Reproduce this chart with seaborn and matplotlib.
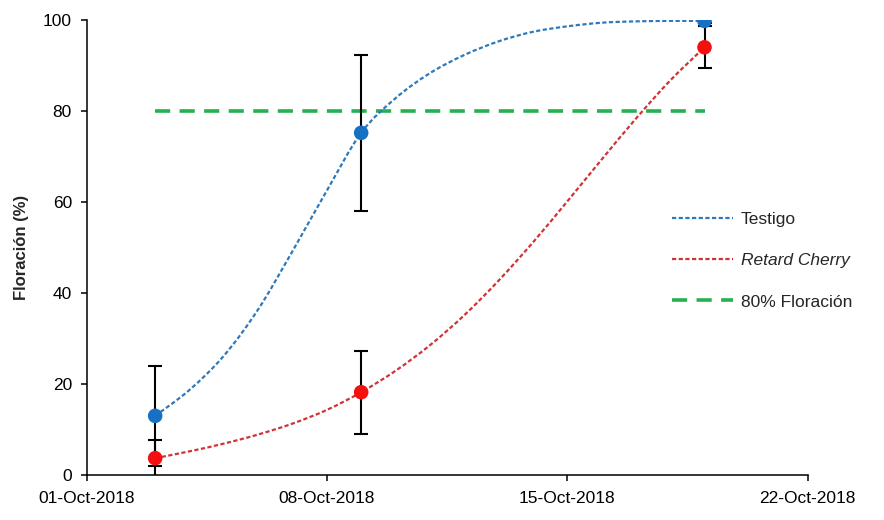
import numpy as np
import pandas as pd
import matplotlib
matplotlib.use('Agg')
import matplotlib.pyplot as plt
import matplotlib.dates as mdates
from matplotlib.lines import Line2D
from matplotlib.path import Path
from matplotlib.patches import PathPatch
import seaborn as sns

# ---- observed points (mean ± error) ----
obs_dates = ['2018-10-03', '2018-10-09', '2018-10-19']
testigo_mean = [13.0, 75.2, 99.8]
testigo_err = [11.0, 17.2, 0.4]
retard_mean = [3.7, 18.2, 94.0]
retard_err = [4.1, 9.1, 4.6]

# ---- smoothed curves (one value per day, 03-Oct .. 19-Oct) ----
curve_dates = pd.date_range('2018-10-03', '2018-10-19', freq='D')
testigo_curve = [13.0, 18.7, 26.2, 36.4, 49.2, 62.5, 75.2, 82.8, 88.3, 92.3, 95.3,
                 97.4, 98.6, 99.4, 99.7, 99.8, 99.8]
retard_curve = [3.7, 5.2, 6.9, 8.9, 11.3, 14.3, 18.2, 22.9, 28.5, 35.1, 42.7, 51.1,
                60.1, 69.3, 78.3, 86.7, 94.0]

# ---- 80 % threshold ----
threshold_dates = ['2018-10-03', '2018-10-19']
threshold_vals = [80, 80]

x_tick_dates = ['2018-10-01', '2018-10-08', '2018-10-15', '2018-10-22']
y_ticks = [0, 20, 40, 60, 80, 100]
legend_labels = ['Testigo', 'Retard Cherry', '80% Floración']
y_label = 'Floración (%)'

# ---- style ----
sns.set_style('ticks')
plt.rcParams['font.family'] = ['Liberation Sans', 'DejaVu Sans']

blue_line = '#2F78BA'
blue_mark = '#1670C4'
red_line = '#CF3434'
red_mark = '#F51010'
green = '#25B150'
fine_dash = (0, (1.9, 1.1))
long_dash = (0, (4.2, 2.6))
FS = 12.5

fig = plt.figure(figsize=(8.84, 5.2), dpi=100)
ax = fig.add_axes([86.5 / 884, 45 / 520, 721 / 884, 455 / 520])

obs_dt = pd.to_datetime(obs_dates)
thr_dt = pd.to_datetime(threshold_dates)

# threshold line (seaborn sets up the date axis)
sns.lineplot(x=thr_dt, y=threshold_vals, ax=ax, color=green, linewidth=2.6,
             linestyle=long_dash, estimator=None, errorbar=None, zorder=2)


def smooth_path(dates, values):
    """Smoothed line through the points (Catmull-Rom as cubic Bezier segments)."""
    x = mdates.date2num(pd.DatetimeIndex(dates).to_pydatetime())
    pts = np.column_stack([x, np.asarray(values, float)])
    ext = np.vstack([pts[0], pts, pts[-1]])
    verts = [pts[0]]
    codes = [Path.MOVETO]
    for i in range(len(pts) - 1):
        p0, p1, p2, p3 = ext[i], ext[i + 1], ext[i + 2], ext[i + 3]
        verts += [p1 + (p2 - p0) / 6.0, p2 - (p3 - p1) / 6.0, p2]
        codes += [Path.CURVE4] * 3
    return Path(np.array(verts), codes)


for vals, col in [(testigo_curve, blue_line), (retard_curve, red_line)]:
    ax.add_patch(PathPatch(smooth_path(curve_dates, vals), facecolor='none',
                           edgecolor=col, linewidth=1.6, linestyle=fine_dash,
                           zorder=3))

# error bars
for mean, err in [(testigo_mean, testigo_err), (retard_mean, retard_err)]:
    ax.errorbar(obs_dt, mean, yerr=err, fmt='none', ecolor='black',
                elinewidth=1.5, capsize=5.3, capthick=1.5, zorder=4)

# markers
sns.scatterplot(x=obs_dt, y=retard_mean, ax=ax, color=red_mark, s=110,
                edgecolor='none', zorder=5, legend=False)
sns.scatterplot(x=obs_dt, y=testigo_mean, ax=ax, color=blue_mark, s=110,
                edgecolor='none', zorder=6, legend=False)

# axes
ax.set_xlim(pd.Timestamp(x_tick_dates[0]), pd.Timestamp(x_tick_dates[-1]))
ax.set_ylim(0, 100)
ax.set_xticks(pd.to_datetime(x_tick_dates))
ax.xaxis.set_major_formatter(mdates.DateFormatter('%d-%b-%Y'))
ax.set_yticks(y_ticks)
ax.tick_params(axis='both', direction='out', length=4.5, width=1.1, labelsize=FS,
               colors='black')
ax.tick_params(axis='x', pad=7)
ax.tick_params(axis='y', pad=6)
ax.set_xlabel('')
ax.set_ylabel(y_label, fontsize=12, fontweight='bold', labelpad=10)
for side in ['top', 'right']:
    ax.spines[side].set_visible(False)
for side in ['left', 'bottom']:
    ax.spines[side].set_linewidth(1.1)
    ax.spines[side].set_color('black')

# legend
handles = [
    Line2D([], [], color=blue_line, lw=1.6, linestyle=fine_dash),
    Line2D([], [], color=red_line, lw=1.6, linestyle=fine_dash),
    Line2D([], [], color=green, lw=2.6, linestyle=long_dash),
]
leg = ax.legend(handles, legend_labels, loc='upper left',
                bbox_to_anchor=(672 / 884, 1 - 212 / 520),
                bbox_transform=fig.transFigure, frameon=False, fontsize=FS,
                handlelength=3.5, handletextpad=0.45, labelspacing=1.5,
                borderpad=0, borderaxespad=0)
leg.get_texts()[1].set_style('italic')

fig.savefig('out.png', dpi=100)
